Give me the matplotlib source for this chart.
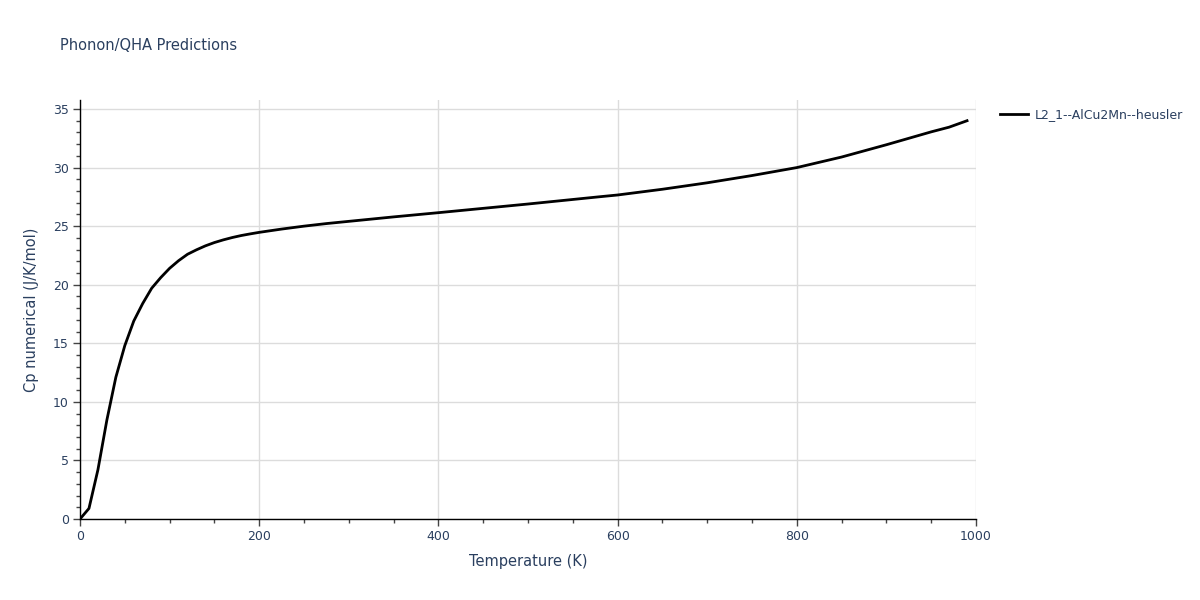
import matplotlib
matplotlib.use("Agg")
import matplotlib.pyplot as plt
from matplotlib.ticker import MultipleLocator

# Cp vs temperature
temperature = [0, 10, 20, 30, 40, 50, 60, 70, 80, 90, 100, 110, 120, 130, 140, 150,
               160, 170, 180, 190, 200, 225, 250, 275, 300, 350, 400, 450, 500, 580,
               600, 650, 700, 750, 800, 850, 900, 950, 970, 990]
cp_numerical = [0.0, 0.9, 4.2, 8.45, 12.1, 14.8, 16.9, 18.4, 19.7, 20.6, 21.4, 22.05,
                22.6, 22.98, 23.32, 23.6, 23.83, 24.03, 24.2, 24.34, 24.47, 24.75,
                25.0, 25.22, 25.41, 25.79, 26.15, 26.52, 26.89, 27.51, 27.66, 28.15,
                28.7, 29.32, 30.0, 30.9, 31.95, 33.05, 33.45, 34.0]
series_name = "L2_1--AlCu2Mn--heusler"

TEXT = "#2a3f5f"
GRID = "#dcdcdc"

plt.rcParams['font.family'] = ['DejaVu Sans']

fig = plt.figure(figsize=(12, 6), dpi=100)
ax = fig.add_axes([80 / 1200, 1 - 519 / 600, 896 / 1200, 419 / 600])

ax.plot(temperature, cp_numerical, color="black", lw=2, label=series_name)

ax.set_xlim(0, 1000)
ax.set_ylim(0, 419 / 11.714)
ax.xaxis.set_major_locator(MultipleLocator(200))
ax.xaxis.set_minor_locator(MultipleLocator(50))
ax.yaxis.set_major_locator(MultipleLocator(5))
ax.yaxis.set_minor_locator(MultipleLocator(1))
ax.grid(True, which="major", color=GRID, lw=1)
ax.set_axisbelow(True)
# no gridline on the right edge
ax.get_xgridlines()[-1].set_visible(False)

for side in ("top", "right"):
    ax.spines[side].set_visible(False)
for side in ("left", "bottom"):
    ax.spines[side].set_color("black")
    ax.spines[side].set_linewidth(1)

ax.tick_params(which="major", direction="out", length=5, width=1, color="#444444",
               labelsize=9, labelcolor=TEXT, pad=3)
ax.tick_params(which="minor", direction="out", length=3, width=1, color="#444444")

ax.set_xlabel("Temperature (K)", fontsize=10.5, color=TEXT, labelpad=8)
ax.set_ylabel("Cp numerical (J/K/mol)", fontsize=10.5, color=TEXT, labelpad=10)

fig.text(60 / 1200, 1 - 45 / 600, "Phonon/QHA Predictions", fontsize=10.5,
         color=TEXT, va="center", ha="left")

leg = ax.legend(loc="upper left", bbox_to_anchor=(995 / 896 - 80 / 896, 1 - 3 / 419),
                frameon=False, fontsize=9, handlelength=2.2, handletextpad=0.6,
                borderaxespad=0)
for t in leg.get_texts():
    t.set_color(TEXT)

fig.savefig("out.png", dpi=100)
